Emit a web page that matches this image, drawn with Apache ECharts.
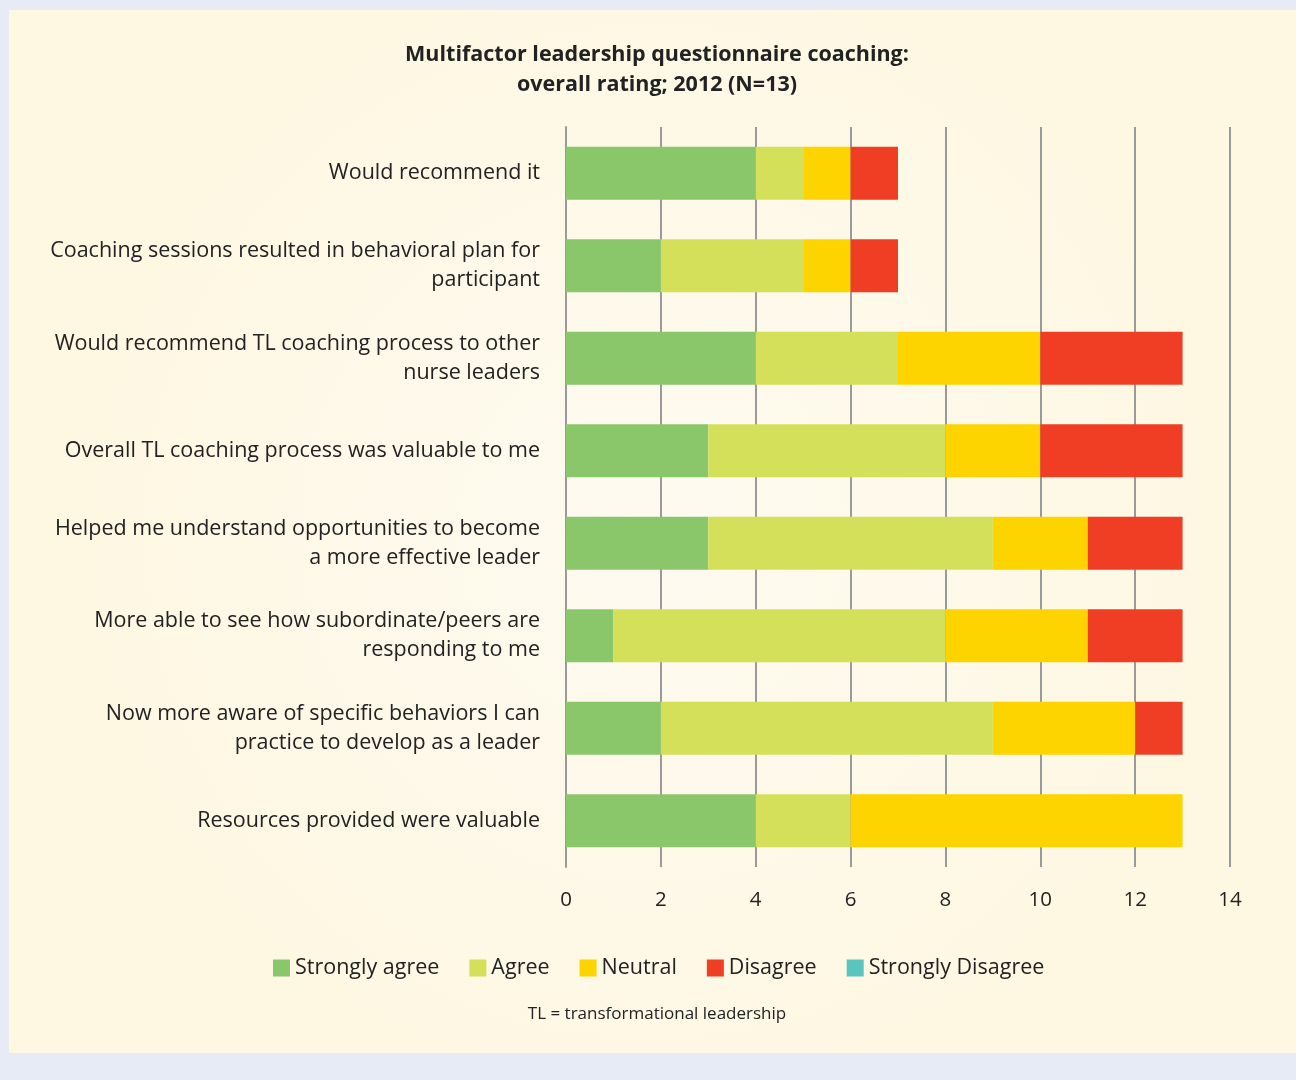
<!DOCTYPE html>
<html>
<head>
<meta charset="utf-8">
<script src="https://cdn.jsdelivr.net/npm/echarts@6/dist/echarts.min.js"></script>
<style>
html,body{margin:0;padding:0;background:#e6ebf6;}
#chart{width:1296px;height:1080px;}
</style>
</head>
<body>
<div id="chart"></div>
<script>
const categories = [
  "Would recommend it",
  "Coaching sessions resulted in behavioral plan for\nparticipant",
  "Would recommend TL coaching process to other\nnurse leaders",
  "Overall TL coaching process was valuable to me",
  "Helped me understand opportunities to become\na more effective leader",
  "More able to see how subordinate/peers are\nresponding to me",
  "Now more aware of specific behaviors I can\npractice to develop as a leader",
  "Resources provided were valuable"
];
const stronglyAgree = [4, 2, 4, 3, 3, 1, 2, 4];
const agree = [1, 3, 3, 5, 6, 7, 7, 2];
const neutral = [1, 1, 3, 2, 2, 3, 3, 7];
const disagree = [1, 1, 3, 3, 2, 2, 1, 0];
const stronglyDisagree = [0, 0, 0, 0, 0, 0, 0, 0];
const seriesNames = ["Strongly agree", "Agree", "Neutral", "Disagree", "Strongly Disagree"];
const seriesColors = ["#8ac76a", "#d4e05a", "#fdd300", "#ef3e24", "#5ac4be"];
const xTicks = [0, 2, 4, 6, 8, 10, 12, 14];

const FONT = "Open Sans";
const chart = echarts.init(document.getElementById('chart'));
const values = [stronglyAgree, agree, neutral, disagree, stronglyDisagree];
chart.setOption({
  backgroundColor: 'transparent',
  textStyle: {fontFamily: FONT},
  graphic: [
    {type: 'rect', z: -10, silent: true, shape: {x: 9, y: 10, width: 1287, height: 1043},
     style: {fill: new echarts.graphic.RadialGradient(0.5, 0.5, 0.6, [
       {offset: 0, color: '#fdfaf0'}, {offset: 1, color: '#fef7e1'}])}},
    {type: 'text', x: 657, y: 70, style: {text: 'Multifactor leadership questionnaire coaching:\noverall rating; 2012 (N=13)',
      font: 'bold 21.5px "' + FONT + '"', lineHeight: 30, fill: '#222', align: 'center', verticalAlign: 'middle'}},
    {type: 'text', x: 657, y: 1014, style: {text: 'TL = transformational leadership', font: '17px "' + FONT + '"', fill: '#222', align: 'center', verticalAlign: 'middle'}}
  ],
  legend: {
    data: seriesNames, top: 952, left: 268,
    itemWidth: 17, itemHeight: 17, itemGap: 30, icon: 'rect',
    textStyle: {fontFamily: FONT, fontSize: 21.5, color: '#222'}
  },
  grid: {left: 566, right: 66, top: 127, bottom: 213, containLabel: false},
  xAxis: {
    type: 'value', min: 0, max: 14, interval: 2,
    axisLine: {show: false}, axisTick: {show: false},
    axisLabel: {fontSize: 20.5, color: '#222', margin: 23, fontFamily: FONT},
    splitLine: {show: true, lineStyle: {color: '#9a9a9a', width: 2}}
  },
  yAxis: {
    type: 'category', data: categories, inverse: true,
    axisLine: {show: true, lineStyle: {color: '#9a9a9a', width: 2}},
    axisTick: {show: false},
    axisLabel: {fontSize: 21.5, color: '#222', margin: 26, lineHeight: 29, align: 'right', fontFamily: FONT}
  },
  series: seriesNames.map((n, i) => ({
    name: n, type: 'bar', stack: 'total', barWidth: 53,
    itemStyle: {color: seriesColors[i]},
    data: values[i]
  }))
});
</script>
</body>
</html>
